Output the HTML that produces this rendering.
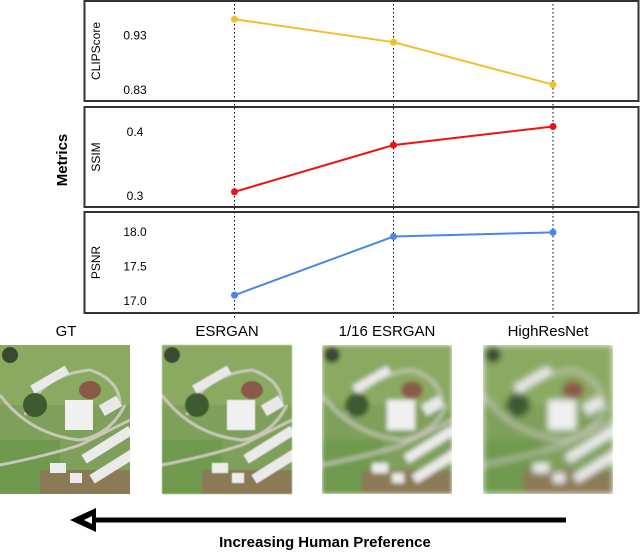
<!DOCTYPE html>
<html><head><meta charset="utf-8"><style>
body{margin:0;background:#fff;width:640px;height:552px;overflow:hidden;font-family:"Liberation Sans",sans-serif;}
svg text{font-family:"Liberation Sans",sans-serif;}
</style></head><body>
<svg width="640" height="552" viewBox="0 0 640 552">
<defs>
<filter id="b1"><feGaussianBlur stdDeviation="0.4"/></filter>
<filter id="b2" x="-10%" y="-10%" width="120%" height="120%"><feGaussianBlur stdDeviation="2.2" edgeMode="duplicate"/></filter>
<filter id="b3" x="-10%" y="-10%" width="120%" height="120%"><feGaussianBlur stdDeviation="3.2" edgeMode="duplicate"/></filter>
<clipPath id="c3"><rect x="322" y="345" width="130" height="149"/></clipPath>
<clipPath id="c4"><rect x="483" y="345" width="130" height="149"/></clipPath>
<symbol id="scene" viewBox="0 0 130 149">
<rect width="130" height="149" fill="#7ea05a"/>
<rect x="0" y="0" width="130" height="60" fill="#8aaa62"/>
<rect x="0" y="95" width="60" height="54" fill="#6f9a4e"/>
<rect x="40" y="125" width="90" height="24" fill="#8a7a55"/>
<path d="M0 50 Q30 90 80 95 Q110 90 125 60" stroke="#c8c8b8" stroke-width="3" fill="none"/>
<path d="M25 70 Q40 30 90 25 Q120 35 120 60" stroke="#c8c8b8" stroke-width="3" fill="none"/>
<path d="M0 120 Q50 110 80 100 L130 75" stroke="#c8c8b8" stroke-width="3" fill="none"/>
<circle cx="35" cy="60" r="12" fill="#3d5a30"/>
<circle cx="10" cy="10" r="8" fill="#3a4a30"/>
<rect x="30" y="30" width="40" height="9" fill="#e8e8e8" transform="rotate(-30 50 35)"/>
<rect x="65" y="55" width="28" height="30" fill="#f0f0f0"/>
<ellipse cx="90" cy="45" rx="11" ry="9" fill="#8a5a48"/>
<rect x="100" y="55" width="20" height="12" fill="#e8e8e8" transform="rotate(-30 110 60)"/>
<rect x="80" y="95" width="55" height="10" fill="#eaeaea" transform="rotate(-32 107 100)"/>
<rect x="88" y="115" width="55" height="10" fill="#eaeaea" transform="rotate(-32 115 120)"/>
<rect x="50" y="118" width="16" height="10" fill="#ececec"/>
<rect x="70" y="128" width="12" height="10" fill="#ececec"/>
</symbol>
</defs>
<script>
const categories=["ESRGAN","1/16 ESRGAN","HighResNet"];
const clipValues=[0.958,0.916,0.838];
const clipTicks=[0.93,0.83];
const ssimValues=[0.305,0.378,0.407];
const ssimTicks=[0.4,0.3];
const psnrValues=[17.07,17.92,17.98];
const psnrTicks=[18.0,17.5,17.0];
</script>
<g id="chart"></g>
<text x="0" y="0" transform="translate(67,160) rotate(-90)" text-anchor="middle" font-size="15" font-weight="bold">Metrics</text>
<g font-size="15" text-anchor="middle">
<text x="66" y="336">GT</text>
<text x="227" y="336">ESRGAN</text>
<text x="387" y="336">1/16 ESRGAN</text>
<text x="548" y="336">HighResNet</text>
</g>
<g>
<use href="#scene" x="0" y="345" width="130" height="149"/>
<use href="#scene" x="162" y="345" width="130" height="149" filter="url(#b1)"/>
<g clip-path="url(#c3)"><g filter="url(#b2)"><svg x="322" y="345" width="130" height="149"><use href="#scene" width="130" height="149"/></svg></g></g>
<g clip-path="url(#c4)"><g filter="url(#b3)"><svg x="483" y="345" width="130" height="149"><use href="#scene" width="130" height="149"/></svg></g></g>
</g>
<g>
<line x1="566" y1="520" x2="95" y2="520" stroke="#000" stroke-width="5"/>
<polygon points="70,520 96,508 96,532" fill="#000"/>
<polygon points="84,520 92,516 92,524" fill="#fff"/>
</g>
<text x="325" y="547" text-anchor="middle" font-size="15" font-weight="bold">Increasing Human Preference</text>
<script>
const NS="http://www.w3.org/2000/svg";
const chart=document.getElementById('chart');
const xPos=[234.5,393.5,553];
function xScale(i){return xPos[i];}
function mk(tag,attrs,parent){const e=document.createElementNS(NS,tag);for(const k in attrs)e.setAttribute(k,attrs[k]);(parent||chart).appendChild(e);return e;}
const panels=[
 {name:'clipscore',title:'CLIPScore',top:1,bot:101,vals:clipValues,ticks:clipTicks,v0:0.93,y0:34.5,v1:0.83,y1:89,color:'#f0c030',dec:2},
 {name:'ssim',title:'SSIM',top:107,bot:207,vals:ssimValues,ticks:ssimTicks,v0:0.4,y0:131,v1:0.3,y1:195,color:'#ee1111',dec:1},
 {name:'psnr',title:'PSNR',top:212,bot:313,vals:psnrValues,ticks:psnrTicks,v0:18.0,y0:231,v1:17.0,y1:300,color:'#4a86e8',dec:1}
];
categories.forEach((c,i)=>{
 const l=mk('line',{x1:xScale(i),y1:0,x2:xScale(i),y2:318,stroke:'#000','stroke-width':1,'stroke-dasharray':'1.5,2.5'});
 
 
});
panels.forEach(p=>{
 const g=mk('g',{});
 
 
 const yS=v=>p.y0+(v-p.v0)*(p.y1-p.y0)/(p.v1-p.v0);
 const r=mk('rect',{x:84.5,y:p.top,width:554,height:p.bot-p.top,fill:'none',stroke:'#333','stroke-width':2},g);
 
 
 const t=mk('text',{transform:`translate(100,${(p.top+p.bot)/2}) rotate(-90)`,'text-anchor':'middle','font-size':12},g);
 t.textContent=p.title;
 
 
 p.ticks.forEach(v=>{
  const tl=mk('text',{x:135,y:yS(v)+5,'text-anchor':'middle','font-size':12},g);
  tl.textContent=v.toFixed(p.dec);
  
  
 });
 const pts=p.vals.map((v,i)=>xScale(i)+','+yS(v)).join(' ');
 const ln=mk('polyline',{points:pts,fill:'none',stroke:p.color,'stroke-width':2},g);
 
 
 p.vals.forEach((v,i)=>{
  const c=mk('circle',{cx:xScale(i),cy:yS(v),r:3.5,fill:p.color},g);
  
  
 });
});
</script>
</svg>
</body></html>
